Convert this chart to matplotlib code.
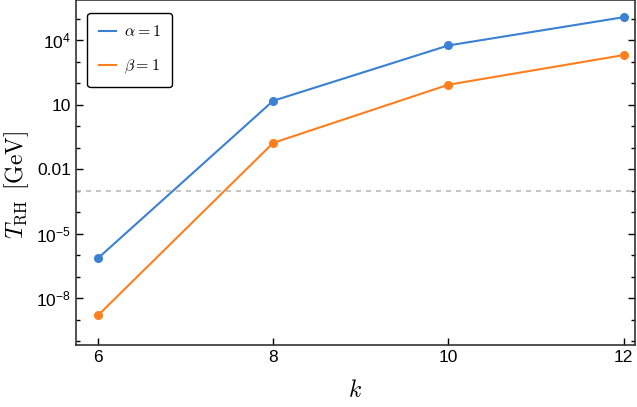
import matplotlib
matplotlib.use("Agg")
import matplotlib.pyplot as plt
import matplotlib.ticker as mticker
from matplotlib.lines import Line2D
import numpy as np

k = [6, 8, 10, 12]
T_alpha = [7.2e-7, 15.0, 5.6e3, 1.15e5]
T_beta = [1.6e-9, 0.166, 84.0, 2.0e3]
T_bbn = 1.0e-3
ytick_vals = [1e-8, 1e-5, 1e-2, 10, 1e4]
ytick_labels = [r"$10^{-8}$", r"$10^{-5}$", "0.01", "10", r"$10^{4}$"]
xtick_vals = [6, 8, 10, 12]

plt.rcParams['mathtext.fontset'] = 'custom'
plt.rcParams['mathtext.rm'] = 'Liberation Sans'
plt.rcParams['mathtext.it'] = 'Liberation Sans:italic'
plt.rcParams['mathtext.bf'] = 'Liberation Sans:bold'
plt.rcParams['mathtext.sf'] = 'Liberation Sans'
plt.rcParams['font.family'] = ['Liberation Sans', 'DejaVu Sans']

fig = plt.figure(figsize=(6.37, 4.07), dpi=100)
ax = fig.add_axes([76/637, 62/407, 559/637, 345/407])

blue = '#3a80d4'
orange = '#ff7f1e'
ax.plot(k, T_alpha, '-o', color=blue, lw=1.5, ms=5.5)
ax.plot(k, T_beta, '-o', color=orange, lw=1.5, ms=5.5)
ax.axhline(T_bbn, color='#bbbbbb', ls='--', lw=1.2, dashes=(3, 3))

ax.set_yscale('log')
ax.set_xlim(5.75, 12.13)
ax.set_ylim(10**-10.17, 10**5.86)
ax.set_xticks(xtick_vals)
ax.set_xticklabels([str(v) for v in xtick_vals])
ax.set_yticks(ytick_vals)
ax.set_yticklabels(ytick_labels)
ax.yaxis.set_minor_locator(mticker.LogLocator(base=10, subs=[1.0], numticks=30))
ax.yaxis.set_minor_formatter(mticker.NullFormatter())

ax.tick_params(which='both', direction='in', right=True, top=False, labelsize=12.5, colors='black')
ax.tick_params(which='major', length=5, width=1)
ax.tick_params(which='minor', length=3, width=1)
for s in ax.spines.values():
    s.set_linewidth(1.2)
    s.set_color('#333333')

ax.set_xlabel(r'$k$', fontsize=17, labelpad=11, math_fontfamily='cm')
ax.set_ylabel(r'$T_{\rm RH}\;\,[{\rm GeV}]$', fontsize=17, math_fontfamily='cm')
ax.yaxis.set_label_coords(-0.08, 0.465)

handles = [Line2D([], [], color=blue, lw=1.5), Line2D([], [], color=orange, lw=1.5)]
labels = [r'$\alpha = 1$', r'$\beta = 1$']
leg = ax.legend(handles, labels, loc='upper left', frameon=True, fancybox=True,
                edgecolor='black', framealpha=1, handlelength=1.1, labelspacing=1.15,
                borderpad=0.7, handletextpad=0.5, bbox_to_anchor=(0.006, 0.985),
                prop={'size': 11.5, 'math_fontfamily': 'cm'})
leg.get_frame().set_linewidth(1.0)

fig.savefig('out.png', dpi=100)
